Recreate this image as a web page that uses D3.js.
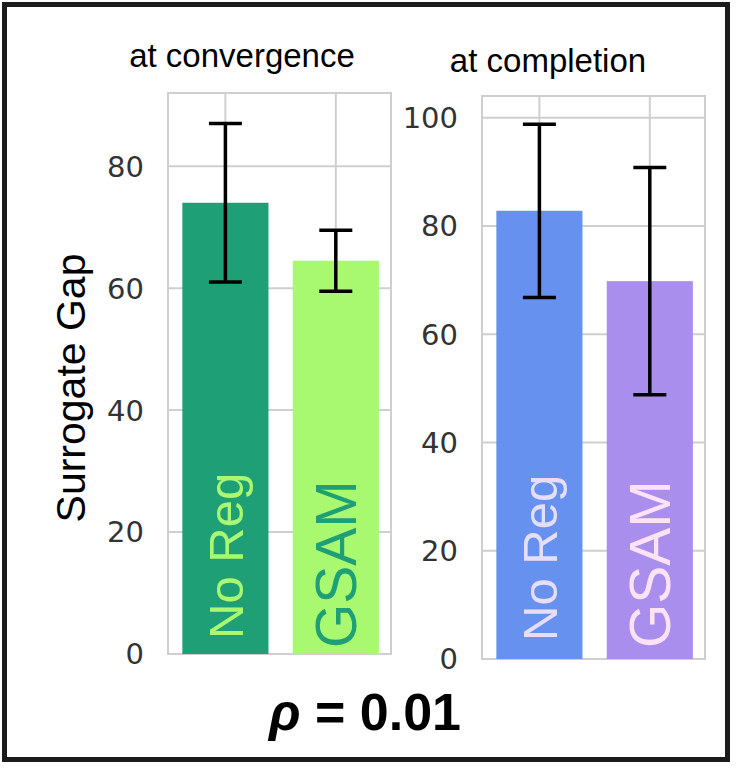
<!DOCTYPE html>
<html>
<head>
<meta charset="utf-8">
<script src="https://cdn.jsdelivr.net/npm/d3@7"></script>
<style>
  body { margin: 0; background: #fff; }
</style>
</head>
<body>
<div id="vis"></div>
<script>
// values
var methods = ['No Reg', 'GSAM'];
var convMeans = [74, 64.5];
var convErrs = [13, 5];
var compMeans = [82.8, 69.8];
var compErrs = [16, 21];
var convTicks = [0, 20, 40, 60, 80];
var compTicks = [0, 20, 40, 60, 80, 100];

var width = 745;
var height = 772;

var svg = d3.select('#vis')
  .append('svg')
  .attr('width', width)
  .attr('height', height);

svg.append('rect')
  .attr('width', width)
  .attr('height', height)
  .attr('fill', '#fff');

// outer frame
svg.append('rect')
  .attr('x', 4.5)
  .attr('y', 4.5)
  .attr('width', 723)
  .attr('height', 755)
  .attr('fill', 'none')
  .attr('stroke', '#1c1c1c')
  .attr('stroke-width', 5);

function panel(opts) {
  var g = svg.append('g');
  var x = d3.scaleLinear().domain([-0.52, 1.5]).range([opts.left, opts.right]);
  var y = d3.scaleLinear().domain([0, opts.yMax]).range([opts.bottom, opts.top]);
  var barW = 0.78;

  // grid
  g.selectAll('.hgrid')
    .data(opts.ticks)
    .enter()
    .append('line')
    .attr('x1', opts.left).attr('x2', opts.right)
    .attr('y1', function (d) { return y(d); })
    .attr('y2', function (d) { return y(d); })
    .attr('stroke', '#cfcfcf')
    .attr('stroke-width', 2);

  g.selectAll('.vgrid')
    .data(methods)
    .enter()
    .append('line')
    .attr('x1', function (d, i) { return x(i); })
    .attr('x2', function (d, i) { return x(i); })
    .attr('y1', opts.top).attr('y2', opts.bottom)
    .attr('stroke', '#cfcfcf')
    .attr('stroke-width', 2);

  g.append('rect')
    .attr('x', opts.left)
    .attr('y', opts.top)
    .attr('width', opts.right - opts.left)
    .attr('height', opts.bottom - opts.top)
    .attr('fill', 'none')
    .attr('stroke', '#cfcfcf')
    .attr('stroke-width', 2);

  // bars
  g.selectAll('.bar')
    .data(opts.means)
    .enter()
    .append('rect')
    .attr('x', function (d, i) { return x(i - barW / 2); })
    .attr('width', x(barW) - x(0))
    .attr('y', function (d) { return y(d); })
    .attr('height', function (d) { return y(0) - y(d); })
    .attr('fill', function (d, i) { return opts.colors[i]; });

  // error bars
  var capHalf = 16.5;
  opts.means.forEach(function (m, i) {
    var cx = x(i);
    var lo = y(m - opts.errs[i]);
    var hi = y(m + opts.errs[i]);
    g.append('line')
      .attr('x1', cx).attr('x2', cx)
      .attr('y1', lo).attr('y2', hi)
      .attr('stroke', '#000').attr('stroke-width', 3.5);
    [lo, hi].forEach(function (yy) {
      g.append('line')
        .attr('x1', cx - capHalf).attr('x2', cx + capHalf)
        .attr('y1', yy).attr('y2', yy)
        .attr('stroke', '#000').attr('stroke-width', 3.5);
    });
  });

  // labels inside bars, reading upward
  var sizes = [49, 57];
  methods.forEach(function (name, i) {
    var fs = sizes[i];
    var bx = x(i) + fs * 0.716 / 2;
    var by = y(0) - (i === 0 ? opts.noRegLift : opts.gsamLift);
    g.append('text')
      .attr('transform', 'translate(' + bx + ',' + by + ') rotate(-90)')
      .attr('font-family', 'Liberation Sans, Arial, sans-serif')
      .attr('font-size', fs)
      .attr('fill', opts.textColors[i])
      .text(name);
  });

  // tick labels
  g.selectAll('.tick')
    .data(opts.ticks)
    .enter()
    .append('text')
    .attr('x', opts.left - 24)
    .attr('y', function (d) { return y(d); })
    .attr('dy', '0.36em')
    .attr('text-anchor', 'end')
    .attr('font-family', 'DejaVu Sans, sans-serif')
    .attr('font-size', 29)
    .attr('fill', '#333')
    .text(function (d) { return d; });

  // title
  g.append('text')
    .attr('x', opts.titleX)
    .attr('y', opts.titleY)
    .attr('text-anchor', 'middle')
    .attr('font-family', 'Liberation Sans, Arial, sans-serif')
    .attr('font-size', 33)
    .attr('fill', '#000')
    .text(opts.title);
}

panel({
  left: 168, right: 391, top: 93, bottom: 654,
  yMax: 92,
  ticks: convTicks,
  means: convMeans,
  errs: convErrs,
  colors: ['#1e9f76', '#a8f870'],
  textColors: ['#a8f870', '#1e9f76'],
  noRegLift: 15, gsamLift: 6,
  title: 'at convergence',
  titleX: 242,
  titleY: 67
});

panel({
  left: 482, right: 705, top: 96, bottom: 659,
  yMax: 104,
  ticks: compTicks,
  means: compMeans,
  errs: compErrs,
  colors: ['#6791ee', '#a98eee'],
  textColors: ['#e6ddf8', '#fbe2f7'],
  noRegLift: 18, gsamLift: 11,
  title: 'at completion',
  titleX: 548,
  titleY: 72
});

// y axis label
svg.append('text')
  .attr('transform', 'translate(85,388) rotate(-90)')
  .attr('text-anchor', 'middle')
  .attr('font-family', 'Liberation Sans, Arial, sans-serif')
  .attr('font-size', 41)
  .attr('fill', '#000')
  .text('Surrogate Gap');

// rho caption
var cap = svg.append('text')
  .attr('x', 365)
  .attr('y', 730)
  .attr('text-anchor', 'middle')
  .attr('font-family', 'Liberation Sans, Arial, sans-serif')
  .attr('font-size', 52)
  .attr('font-weight', 'bold')
  .attr('fill', '#000');
cap.append('tspan').attr('font-style', 'italic').text('ρ');
cap.append('tspan').text(' = 0.01');
</script>
</body>
</html>
